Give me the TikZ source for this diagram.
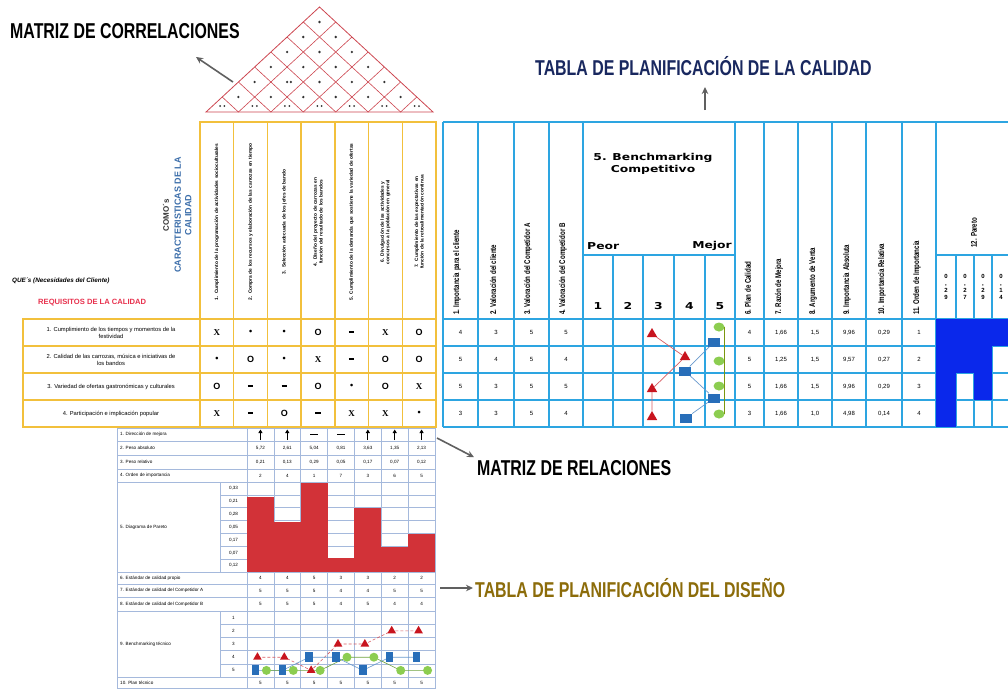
\documentclass[tikz,border=0pt]{standalone}
\usepackage{fontspec}
\setmainfont{Liberation Sans}
\newfontfamily\cond{Liberation Sans}[FakeStretch=0.74]
\newfontfamily\wide{DejaVu Sans}[FakeStretch=1.3]
\newfontfamily\serifb{Liberation Serif}
\usetikzlibrary{shapes.geometric,arrows.meta}
\definecolor{roofred}{RGB}{205,70,80}
\definecolor{gold}{RGB}{242,192,60}
\definecolor{tblue}{RGB}{45,165,225}
\definecolor{navy}{RGB}{25,40,95}
\definecolor{olivet}{RGB}{140,108,10}
\definecolor{gridb}{RGB}{165,185,220}
\definecolor{barred}{RGB}{210,50,56}
\definecolor{pblue}{RGB}{10,40,235}
\definecolor{mkred}{RGB}{200,20,30}
\definecolor{mkblue}{RGB}{40,110,185}
\definecolor{mkgreen}{RGB}{140,205,80}
\definecolor{capblue}{RGB}{60,110,170}
\definecolor{reqred}{RGB}{232,50,78}
\newcommand\symX{{\serifb\bfseries X}}
\newcommand\symb{\textbullet}
\newcommand\symO{\textbf{O}}
\newcommand\symm{\rule[0.8pt]{5.5pt}{2.6pt}}
\begin{document}
\begin{tikzpicture}[x=1pt,y=-1pt,
  title/.style={font=\cond\bfseries\fontsize{21.5}{21.5}\selectfont, inner sep=0pt, anchor=west},
  garrow/.style={draw=gray!75!black, line width=1.6pt, -{Stealth[length=7pt,width=6.5pt]}},
  tinyt/.style={font=\bfseries\fontsize{4.8}{5.6}\selectfont, inner sep=0pt},
  lab/.style={font=\fontsize{4.6}{5.2}\selectfont, inner sep=0pt},
  val/.style={font=\fontsize{6}{6}\selectfont, inner sep=0pt},
  dval/.style={font=\fontsize{4.6}{5}\selectfont, inner sep=0pt},
  rhead/.style={font=\cond\bfseries\fontsize{8.3}{8.3}\selectfont, rotate=90, anchor=west, inner sep=0pt},
  sym/.style={font=\bfseries\fontsize{9}{9}\selectfont, inner sep=0pt},
  tri/.style={regular polygon, regular polygon sides=3, fill=mkred, inner sep=0pt, minimum size=12pt},
  sqm/.style={rectangle, fill=mkblue, minimum width=12pt, minimum height=9pt, inner sep=0pt},
  ellm/.style={ellipse, fill=mkgreen, minimum width=11pt, minimum height=9pt, inner sep=0pt},
  stri/.style={regular polygon, regular polygon sides=3, fill=mkred, inner sep=0pt, minimum size=10pt},
  ssq/.style={rectangle, fill=mkblue, minimum width=7.5pt, minimum height=10pt, inner sep=0pt},
  scir/.style={circle, fill=mkgreen, minimum size=9pt, inner sep=0pt},
  bigwide/.style={font=\wide\bfseries\fontsize{9.5}{12}\selectfont, inner sep=0pt}
]
\useasboundingbox (0,0) rectangle (1008,689);
\fill[white] (0,0) rectangle (1008,689);

% ---------------- Roof (correlation matrix)
\def\rw{32.43}\def\rh{15}
\draw[roofred, line width=0.8pt] (206,112) -- (319.5,7) -- (433,112) -- cycle;
\foreach \k in {1,...,6}{
  \pgfmathsetmacro\xk{206+\k*\rw}
  \pgfmathsetmacro\xr{\xk+(7-\k)*\rw/2}
  \pgfmathsetmacro\yr{112-(7-\k)*\rh}
  \pgfmathsetmacro\xl{\xk-\k*\rw/2}
  \pgfmathsetmacro\yl{112-\k*\rh}
  \draw[roofred, line width=0.6pt] (\xl,\yl) -- (\xk,112) -- (\xr,\yr);
}
\foreach \i in {0,...,5}{
  \pgfmathtruncatemacro\ip{\i+1}
  \foreach \j in {\ip,...,6}{
    \fill[gray!40!black] ({206+\rw*(\i+\j+1)/2},{112-(\j-\i)*\rh}) circle (1.3pt);
  }
}
\fill[gray!40!black] ({206+\rw*2.5+3.8},{112-2*\rh}) circle (1.3pt);
\foreach \i in {0,...,6}{
  \fill[gray!40!black] ({206+\rw*(\i+0.5)-2.2},106) circle (1pt);
  \fill[gray!40!black] ({206+\rw*(\i+0.5)+2.2},106) circle (1pt);
}

% ---------------- Titles and arrows
\node[title] (tcorr) at (10,31) {MATRIZ DE CORRELACIONES};
\node[title, text=navy] (tcal) at (535,66) {TABLA DE PLANIFICACIÓN DE LA CALIDAD};
\node[title] (trel) at (477,468) {MATRIZ DE RELACIONES};
\node[title, text=olivet] (tdis) at (475,588) {TABLA DE PLANIFICACIÓN DEL DISEÑO};
\coordinate (acorr) at (233,82);
\coordinate (acorrt) at (196,57);
\draw[garrow] (acorr) -- (acorrt);
\coordinate (acal) at (705,110);
\draw[garrow] (acal) -- (705,87);
\coordinate (arel) at (437,438);
\draw[garrow] (arel) -- ([xshift=-3pt,yshift=3pt]trel.north west);
\coordinate (adis) at (440,588);
\draw[garrow] (adis) -- ([xshift=-2pt]tdis.west);

% ---------------- Yellow frame (quality characteristics & relation matrix)
\begin{scope}[gold, line width=1.3pt]
  \draw (200,122) rectangle (436,427);
  \draw (23,319) rectangle (200,427);
  \foreach \yy in {319,346,373,400} \draw (23,\yy) -- (436,\yy);
  \foreach \k in {1,...,6} \draw ({200+33.714*\k},122) -- ({200+33.714*\k},427);
\end{scope}

% column headers (COMO's)
\foreach \t [count=\c] in {
  {1. Cumplimiento de la programación de actividades socioculturales},
  {2. Compra de los recursos y elaboración de las carrozas en tiempo},
  {3. Selección adecuada de los jefes de bando},
  {4. Diseño del proyecto de carrozas en función del resultado de los bandos},
  {5. Cumplimiento de la demanda que sostiene la variedad de ofertas},
  {6. Divulgación de las actividades y concursos a la población en general},
  {7. Cumplimiento de las expectativas en función de la retroalimentación continua}}{
  \node[tinyt, rotate=90, text width=160pt, align=center] (como\c) at ({200+33.714*(\c-0.5)},222) {\t};
}
\node[font=\bfseries\fontsize{8}{8}\selectfont, text=gray!40!black, rotate=90, inner sep=0pt] (comos) at (166,215) {COMO´s};
\node[font=\bfseries\fontsize{9}{10.5}\selectfont, text=capblue, rotate=90, align=center, inner sep=0pt] (carac) at (183,215) {CARACTERISTICAS DE LA\\CALIDAD};
\node[font=\itshape\bfseries\fontsize{6.3}{7}\selectfont, anchor=west, inner sep=0pt] (ques) at (12,281) {QUE´s (Necesidades del Cliente)};
\node[font=\bfseries\fontsize{7.6}{8}\selectfont, text=reqred, anchor=west, inner sep=0pt] (req) at (38,303) {REQUISITOS DE LA CALIDAD};

% row labels
\foreach \t [count=\r] in {
  {1. Cumplimiento de los tiempos y momentos de la\\festividad},
  {2. Calidad de las carrozas, música e iniciativas de\\los bandos},
  {3. Variedad de ofertas gastronómicas y culturales},
  {4. Participación e implicación popular}}{
  \node[font=\fontsize{5.8}{7}\selectfont, align=center, inner sep=0pt] (que\r) at (111,{319+27*(\r-0.5)}) {\t};
}
% relation symbols
\foreach \row [count=\r] in {{X,b,b,O,m,X,O},{b,O,b,X,m,O,O},{O,m,m,O,b,O,X},{X,m,O,m,X,X,b}}{
  \foreach \s [count=\c] in \row {
    \node[sym] (s\r\c) at ({200+33.714*(\c-0.5)},{319+27*(\r-0.5)}) {\csname sym\s\endcsname};
  }
}

% ---------------- Blue quality planning table
\begin{scope}[tblue, line width=1.1pt]
  \draw (443,122) -- (1008,122);
  \foreach \xx in {443,478,514,549,583,735,764,798,832,866,902,936} \draw (\xx,122) -- (\xx,427);
  \foreach \xx in {613,643,674,705,956,974,992} \draw (\xx,255) -- (\xx,427);
  \draw (583,255) -- (735,255);
  \draw (936,255) -- (1008,255);
  \foreach \yy in {319,346,373,400,427} \draw (443,\yy) -- (1008,\yy);
\end{scope}
\foreach \xx/\t [count=\n] in {457/{1. Importancia para el cliente}, 493/{2. Valoración del cliente},
  528/{3. Valoración del Competidor A}, 563/{4. Valoración del Competidor B},
  748/{6. Plan de Calidad}, 779/{7. Razón de Mejora}, 813/{8. Argumento de Venta},
  847/{9. Importancia Absoluta}, 882/{10. Importancia Relativa}, 917/{11. Orden de Importancia}}{
  \node[rhead] (h\n) at (\xx,315) {\t};
}
\node[rhead] (hpar) at (974,248) {12. Pareto};
\node[bigwide, align=center] (bench) at (653,164) {5. Benchmarking\\Competitivo};
\node[bigwide, anchor=west] (peor) at (587,246) {Peor};
\node[bigwide, anchor=east] (mejor) at (732,246) {Mejor};
\foreach \xx [count=\n] in {598,628,658.5,689.5,720}{
  \node[bigwide] (bn\n) at (\xx,306) {\n};
}
\foreach \xx/\a/\b/\c [count=\n] in {946/2/9/1, 965/2/7/2, 983/2/9/3, 1001/1/4/4}{
  \node[font=\bfseries\fontsize{6}{7.2}\selectfont, align=center, inner sep=0pt] (pv\n) at (\xx,287) {0\\,\\\a\\\b};
}
% data rows
\foreach \yy/\a/\b/\c/\d/\e/\f/\g/\h/\k/\l in {
  332.5/4/3/5/5/4/{1,66}/{1,5}/{9,96}/{0,29}/1,
  359.5/5/4/5/4/5/{1,25}/{1,5}/{9,57}/{0,27}/2,
  386.5/5/3/5/5/5/{1,66}/{1,5}/{9,96}/{0,29}/3,
  413.5/3/3/5/4/3/{1,66}/{1,0}/{4,98}/{0,14}/4}{
  \node[val] at (460.5,\yy) {\a};
  \node[val] at (496,\yy) {\b};
  \node[val] at (531.5,\yy) {\c};
  \node[val] at (566,\yy) {\d};
  \node[val] at (749.5,\yy) {\e};
  \node[val] at (781,\yy) {\f};
  \node[val] at (815,\yy) {\g};
  \node[val] at (849,\yy) {\h};
  \node[val] at (884,\yy) {\k};
  \node[val] at (919,\yy) {\l};
}
% Pareto bars (quality)
\fill[pblue] (936,319) rectangle (956,427);
\fill[pblue] (936,319) rectangle (1008,346);
\fill[pblue] (956,319) rectangle (974,373);
\fill[pblue] (974,319) rectangle (992,400);
% competitive benchmarking markers
\node[tri] (t1) at (652,334) {};
\node[tri] (t2) at (685,357) {};
\node[tri] (t3) at (652,389) {};
\node[tri] (t4) at (652,417) {};
\node[sqm] (q1) at (714,342) {};
\node[sqm] (q2) at (685,371) {};
\node[sqm] (q3) at (714,398) {};
\node[sqm] (q4) at (686,418) {};
\node[ellm] (e1) at (719,327) {};
\node[ellm] (e2) at (719,361) {};
\node[ellm] (e3) at (719,386) {};
\node[ellm] (e4) at (719,414) {};
\draw[mkred!70, line width=0.7pt] (t1) -- (t2) -- (t3) -- (t4);
\draw[mkblue!70, line width=0.7pt] (q1) -- (q2) -- (q3) -- (q4);
\draw[olive!70!green, line width=0.7pt] (e1.east) -- (e4.east);

% ---------------- Design planning table
\def\dw{26.857}
\begin{scope}[gridb, line width=0.5pt]
  \foreach \yy in {428,441,455,469,482,572,584,597,611,677,688.5} \draw (117,\yy) -- (435,\yy);
  \foreach \yy in {494.86,507.71,520.57,533.43,546.29,559.14,624.2,637.4,650.6,663.8} \draw (220,\yy) -- (435,\yy);
  \draw (117,428) -- (117,688.5);
  \draw (220,482) -- (220,572);
  \draw (220,611) -- (220,677);
  \foreach \k in {0,...,7} \draw ({247+\dw*\k},428) -- ({247+\dw*\k},688.5);
\end{scope}
\foreach \t/\yy [count=\n] in {{1. Dirección de mejora}/434.5, {2. Peso absoluto}/448, {3. Peso relativo}/462,
  {4. Orden de importancia}/475.5, {5. Diagrama de Pareto}/527, {6. Estándar de calidad propio}/578,
  {7. Estándar de calidad del Competidor A}/590.5, {8. Estándar de calidad del Competidor B}/604,
  {9. Benchmarking técnico}/644, {10. Plan técnico}/683}{
  \node[lab, anchor=west] (d\n) at (120,\yy) {\t};
}
% direction of improvement
\foreach \k/\d in {1/u,2/u,3/n,4/n,5/u,6/u,7/u}{
  \pgfmathsetmacro\xc{247+\dw*(\k-0.5)}
  \if u\d
    \draw[line width=1pt, -{Triangle[length=3.5pt,width=4pt]}] (\xc,440) -- (\xc,429.5);
  \else
    \draw[line width=0.9pt] (\xc-4,434.5) -- (\xc+4,434.5);
  \fi
}
\foreach \v [count=\k] in {{5,72},{2,61},{5,04},{0,81},{3,63},{1,35},{2,13}}
  \node[dval] at ({247+\dw*(\k-0.5)},448) {\v};
\foreach \v [count=\k] in {{0,21},{0,13},{0,29},{0,05},{0,17},{0,07},{0,12}}
  \node[dval] at ({247+\dw*(\k-0.5)},462) {\v};
\foreach \v [count=\k] in {2,4,1,7,3,6,5}
  \node[dval] at ({247+\dw*(\k-0.5)},475.5) {\v};
\foreach \v [count=\k] in {4,4,5,3,3,2,2}
  \node[dval] at ({247+\dw*(\k-0.5)},578) {\v};
\foreach \v [count=\k] in {5,5,5,4,4,5,5}
  \node[dval] at ({247+\dw*(\k-0.5)},590.5) {\v};
\foreach \v [count=\k] in {5,5,5,4,5,4,4}
  \node[dval] at ({247+\dw*(\k-0.5)},604) {\v};
\foreach \v [count=\k] in {5,5,5,5,5,5,5}
  \node[dval] at ({247+\dw*(\k-0.5)},683) {\v};
% Pareto axis and bars
\foreach \v [count=\k] in {{0,33},{0,21},{0,28},{0,05},{0,17},{0,07},{0,12}}
  \node[dval] at (233.5,{482+12.857*(\k-0.5)}) {\v};
\foreach \tp [count=\k] in {497,522,483,558,508,547,534}
  \fill[barred] ({247+\dw*(\k-1)},\tp) rectangle ({247+\dw*\k},572);
% technical benchmarking
\foreach \v [count=\k] in {1,2,3,4,5}
  \node[dval] at (233.5,{611+13.2*(\k-0.5)}) {\v};
\foreach \a/\b/\c [count=\k] in {4/5/5,4/5/5,5/4/5,3/4/4,3/5/4,2/4/5,2/4/5}{
  \pgfmathsetmacro\xc{247+\dw*(\k-0.5)}
  \coordinate (bt\k) at ({\xc-3},{611+13.2*(\a-0.5)});
  \coordinate (bq\k) at ({\xc-5},{611+13.2*(\b-0.5)});
  \coordinate (bc\k) at ({\xc+6},{611+13.2*(\c-0.5)});
}
\draw[mkred!70, line width=0.6pt, densely dashed] (bt1) -- (bt2) -- (bt3) -- (bt4) -- (bt5) -- (bt6) -- (bt7);
\draw[mkblue!70, line width=0.6pt] (bq1) -- (bq2) -- (bq3) -- (bq4) -- (bq5) -- (bq6) -- (bq7);
\draw[mkgreen!80!black, line width=0.6pt] (bc1) -- (bc2) -- (bc3) -- (bc4) -- (bc5) -- (bc6) -- (bc7);
\foreach \k in {1,...,7}{
  \node[ssq] (mq\k) at (bq\k) {};
  \node[scir] (mc\k) at (bc\k) {};
  \node[stri] (mt\k) at (bt\k) {};
}
\end{tikzpicture}
\end{document}
